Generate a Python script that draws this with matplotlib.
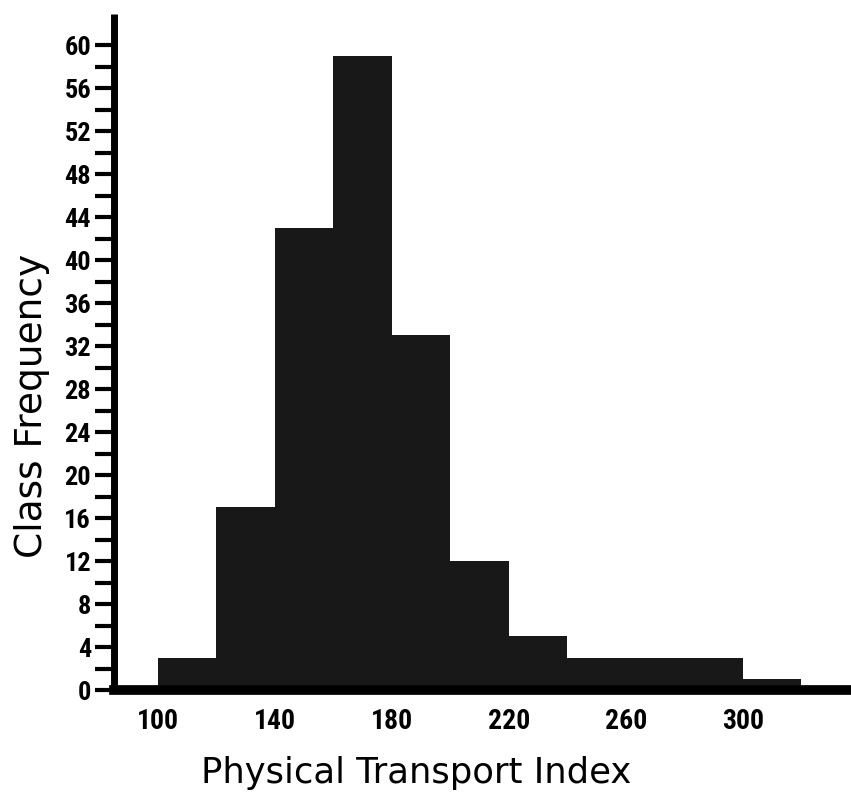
import matplotlib
matplotlib.use('Agg')
import matplotlib.pyplot as plt
from matplotlib import font_manager
from matplotlib.ticker import FixedLocator

bin_starts = [80, 100, 120, 140, 160, 180, 200, 220, 240, 260, 280, 300, 320]
frequences = [0, 3, 17, 43, 59, 33, 12, 5, 3, 3, 3, 1, 0]
bin_width = 20
x_ticks = [100, 140, 180, 220, 260, 300]
y_ticks = list(range(0, 61, 4))
y_minor = list(range(2, 61, 4))

# Police étroite pour les graduations si disponible
noms = {f.name for f in font_manager.fontManager.ttflist}
police_ticks = 'DejaVu Sans'
for nom in ['Roboto Condensed', 'DejaVu Sans Condensed', 'Liberation Sans Narrow']:
    if nom in noms:
        police_ticks = nom
        break

fig = plt.figure(figsize=(8.51, 7.97), dpi=100)
ax = fig.add_axes([114 / 851, 107 / 797, 737 / 851, 676 / 797])

ax.bar(bin_starts, frequences, width=bin_width, align='edge',
       color='#181818', linewidth=0)

ax.set_xlim(85, 337)
ax.set_ylim(0, 62.9)

# Axes
for s in ['top', 'right']:
    ax.spines[s].set_visible(False)
ax.spines['left'].set_linewidth(5)
ax.spines['bottom'].set_linewidth(7)
ax.spines['left'].set_capstyle('butt')

ax.set_yticks(y_ticks)
ax.yaxis.set_minor_locator(FixedLocator(y_minor))
ax.tick_params(axis='y', which='both', direction='out', length=13.5, width=3, pad=3,
               labelsize=19)
ax.set_xticks(x_ticks)
ax.tick_params(axis='x', length=0, pad=13, labelsize=20)
for lab in ax.get_xticklabels() + ax.get_yticklabels():
    lab.set_family([police_ticks, 'DejaVu Sans'])
    lab.set_fontweight('bold')

ax.set_xlabel('Physical Transport Index', fontsize=25.5, family='DejaVu Sans')
ax.xaxis.set_label_coords(0.41, -0.097)
ax.set_ylabel('Class Frequency', fontsize=27, family='DejaVu Sans')
ax.yaxis.set_label_coords(-0.087, 0.42)

fig.savefig('out.png', dpi=100)
